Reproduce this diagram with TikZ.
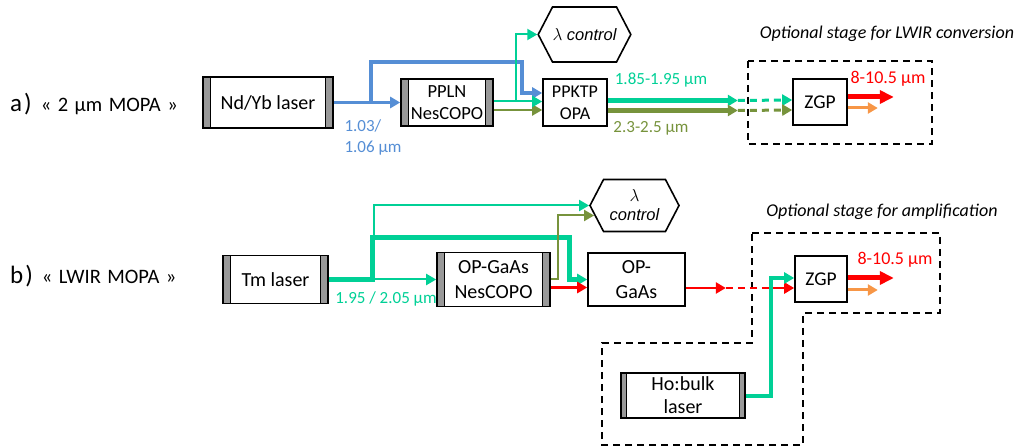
\documentclass[tikz,border=0pt]{standalone}
\usepackage{fontspec}
\setmainfont{Carlito}
\newfontfamily\arialfont{Liberation Sans}
\usepackage{tikz}
\usetikzlibrary{arrows.meta,shapes,backgrounds}
\definecolor{pumpblue}{RGB}{85,142,213}
\definecolor{sigteal}{RGB}{0,208,150}
\definecolor{idlolive}{RGB}{119,147,60}
\definecolor{lwirred}{RGB}{255,0,0}
\definecolor{resorange}{RGB}{247,150,70}
\definecolor{capgray}{gray}{0.6}
\newcommand{\fsz}[2]{\fontsize{#1}{#2}\selectfont}
\newcommand{\tagfont}{\fsz{20.5}{23}\spaceskip=6.5pt\relax}

% laser cavity: box with grey mirrors at both ends
\tikzset{
  laser/.style={draw, line width=1.6pt, fill=white, align=center, inner sep=0pt,
    path picture={
      \fill[capgray, draw=black, line width=1.2pt] (path picture bounding box.north west)
        rectangle ([xshift=#1]path picture bounding box.south west);
      \fill[capgray, draw=black, line width=1.2pt] (path picture bounding box.north east)
        rectangle ([xshift=-#1]path picture bounding box.south east);
    }},
  laser/.default=7.5pt
}

\begin{document}
\begin{tikzpicture}[x=1pt, y=-1pt, every node/.style={font=\fsz{18}{21}}]
	  \tikzstyle{crystal} = [draw, line width=1.6pt, fill=white, align=center, inner sep=0pt]
	  \tikzstyle{ctrl} = [draw, line width=1.6pt, shape=signal, signal to=east and west,
	    signal pointer angle=125, align=center, inner sep=0pt, font=\arialfont\itshape\fsz{16.5}{19}]
	  \tikzstyle{beam} = [-{Triangle[length=10pt,width=11pt]}]
	  \tikzstyle{bigbeam} = [-{Triangle[length=14pt,width=13pt]}]
	  \tikzstyle{pump} = [draw=pumpblue, line width=3.5pt]
	  \tikzstyle{sig} = [draw=sigteal, line width=2pt]
	  \tikzstyle{idl} = [draw=idlolive, line width=2pt]
	  \tikzstyle{lwir} = [draw=lwirred, line width=2.5pt]
	  \tikzstyle{res} = [draw=resorange, line width=3pt]
	  \tikzstyle{gap} = [dash pattern=on 7pt off 5pt]
	  \tikzstyle{stage} = [draw, line width=1.6pt, dash pattern=on 7pt off 5pt]
	  \tikzstyle{tag} = [anchor=west, inner sep=0pt, font=\tagfont]
	  \useasboundingbox (0,0) rectangle (1023,446);

	  % a) 2 um MOPA
	  \node[tag] (taga) at (10,104) {{\fsz{25}{28}a\hspace{2pt})}\hspace{9pt}« 2 µm MOPA »};
	  \node[laser, minimum width=130pt, minimum height=51pt, font=\fsz{20}{24}] (ndyb) at (268,102.5) {Nd/Yb laser};
	  \node[laser, minimum width=92pt, minimum height=47pt, font=\fsz{18.5}{22}] (ppln) at (447,102.5) {PPLN\\NesCOPO};
	  \node[crystal, minimum width=64pt, minimum height=47pt, font=\fsz{18}{22}] (ppktp) at (575,102.5) {PPKTP\\OPA};
	  \node[ctrl, minimum width=91pt, minimum height=55pt] (ctrla) at (584.5,34.5) {$\lambda$ control};
	  \node[crystal, minimum width=54pt, minimum height=46pt, font=\fsz{19.5}{22}] (zgpa) at (820,102) {ZGP};
	  \draw[stage] (748,61) rectangle (932,144);
	  \node[font=\itshape\fsz{18}{21}] (stagea) at (887,34) {Optional stage for LWIR conversion};

	  \draw[pump, beam] (ndyb.east) -- (ppln.west);
	  \draw[pump, beam] ([xshift=37pt]ndyb.east) -- ++(0,-40.5) -| ([xshift=-20pt,yshift=9.5pt]ppktp.west) -- ([yshift=9.5pt]ppktp.west);
	  \draw[idl, beam] ([yshift=-7.5pt]ppln.east) -- ([yshift=-7.5pt]ppktp.west);
	  \draw[sig, beam] ([yshift=1pt]ppln.east) -- ([yshift=1pt]ppktp.west);
	  \draw[sig, beam] ([xshift=22pt,yshift=1pt]ppln.east) |- (ctrla.west);
	  \draw[sig, line width=4.5pt, beam] ([yshift=2pt]ppktp.east) -- ++(130,0) coordinate (sa);
	  \draw[sig, line width=3pt, gap, beam] (sa) -- ([yshift=2pt]zgpa.west);
	  \draw[idl, line width=4.5pt, beam] ([yshift=-8pt]ppktp.east) -- ++(130,0) coordinate (ia);
	  \draw[idl, line width=3pt, gap, beam] (ia) -- ([yshift=-8pt]zgpa.west);
	  \draw[lwir, line width=5pt, bigbeam] ([yshift=5pt]zgpa.east) -- ++(46,0) coordinate (outa);
	  \draw[res, beam] ([yshift=-6pt]zgpa.east) -- ++(30,0) coordinate (resa);

	  \node[text=pumpblue, align=left, anchor=west, font=\fsz{17}{21}] (lpump) at (341,137.5) {1.03/\\1.06 µm};
	  \node[text=sigteal, font=\fsz{17}{20}] (lsiga) at (661,80) {1.85-1.95 µm};
	  \node[text=idlolive, font=\fsz{17}{20}] (lidla) at (651,128) {2.3-2.5 µm};
	  \node[text=lwirred] (louta) at (888,79) {8-10.5 µm};

	  % b) LWIR MOPA
	  \node[tag] (tagb) at (10,276) {{\fsz{25}{28}b\hspace{2pt})}\hspace{9pt}« LWIR MOPA »};
	  \node[laser, minimum width=105pt, minimum height=48pt, font=\fsz{20}{24}] (tm) at (275.5,279.5) {Tm laser};
	  \node[laser, minimum width=113pt, minimum height=54pt, font=\fsz{20}{25}] (gaasopo) at (493.5,279.5) {OP-GaAs\\NesCOPO};
	  \node[crystal, minimum width=97pt, minimum height=53pt, font=\fsz{20}{25}] (opgaas) at (636.5,279.5) {OP-\\GaAs};
	  \node[ctrl, minimum width=89pt, minimum height=52pt] (ctrlb) at (634.5,205.5) {$\lambda$\\control};
	  \node[crystal, minimum width=52pt, minimum height=46pt, font=\fsz{19.5}{22}] (zgpb) at (821,279) {ZGP};
	  \node[laser=5.5pt, minimum width=124pt, minimum height=45pt, font=\fsz{20}{23}] (hobulk) at (683,395.5) {Ho:bulk\\laser};
	  \draw[stage] (752,233) -- (940,233) -- (940,313) -- (803,313) -- (803,445) -- (602,445) -- (602,343) -- (752,343) -- cycle;
	  \node[font=\itshape\fsz{18}{21}] (stageb) at (882,212) {Optional stage for amplification};

	  \draw[sig, line width=5pt, beam] (tm.east) -- ++(44,0) -- ++(0,-42) -| ([xshift=-18pt]opgaas.west) -- (opgaas.west);
	  \draw[sig, beam] ([xshift=44pt]tm.east) -- (gaasopo.west);
	  \draw[sig, beam] ([xshift=45pt]tm.east) |- (ctrlb.west);
	  \draw[idl, beam] (gaasopo.east) -- ++(7,0) |- ([xshift=5pt,yshift=-10pt]ctrlb.west);
	  \draw[lwir, beam] ([yshift=-8pt]gaasopo.east) -- ([yshift=-8pt]opgaas.west);
	  \draw[lwir, beam] ([yshift=-8.5pt]opgaas.east) -- ++(40,0) coordinate (ra);
	  \draw[lwir, gap] (ra) -- ++(38,0) coordinate (rb);
	  \draw[lwir, beam] (rb) -- ([yshift=-9pt]zgpb.west);
	  \draw[sig, line width=4pt, beam] (hobulk.east) -- ++(25,0) |- ([yshift=1pt]zgpb.west);
	  \draw[lwir, line width=5pt, bigbeam] ([yshift=1pt]zgpb.east) -- ++(46,0) coordinate (outb);
	  \draw[res, beam] ([yshift=-11pt]zgpb.east) -- ++(30,0) coordinate (resb);

	  \node[text=sigteal, font=\fsz{17}{20}] (lsigb) at (386,298.5) {1.95 / 2.05 µm};
	  \node[text=lwirred] (loutb) at (895,260) {8-10.5 µm};
	\end{tikzpicture}
\end{document}
